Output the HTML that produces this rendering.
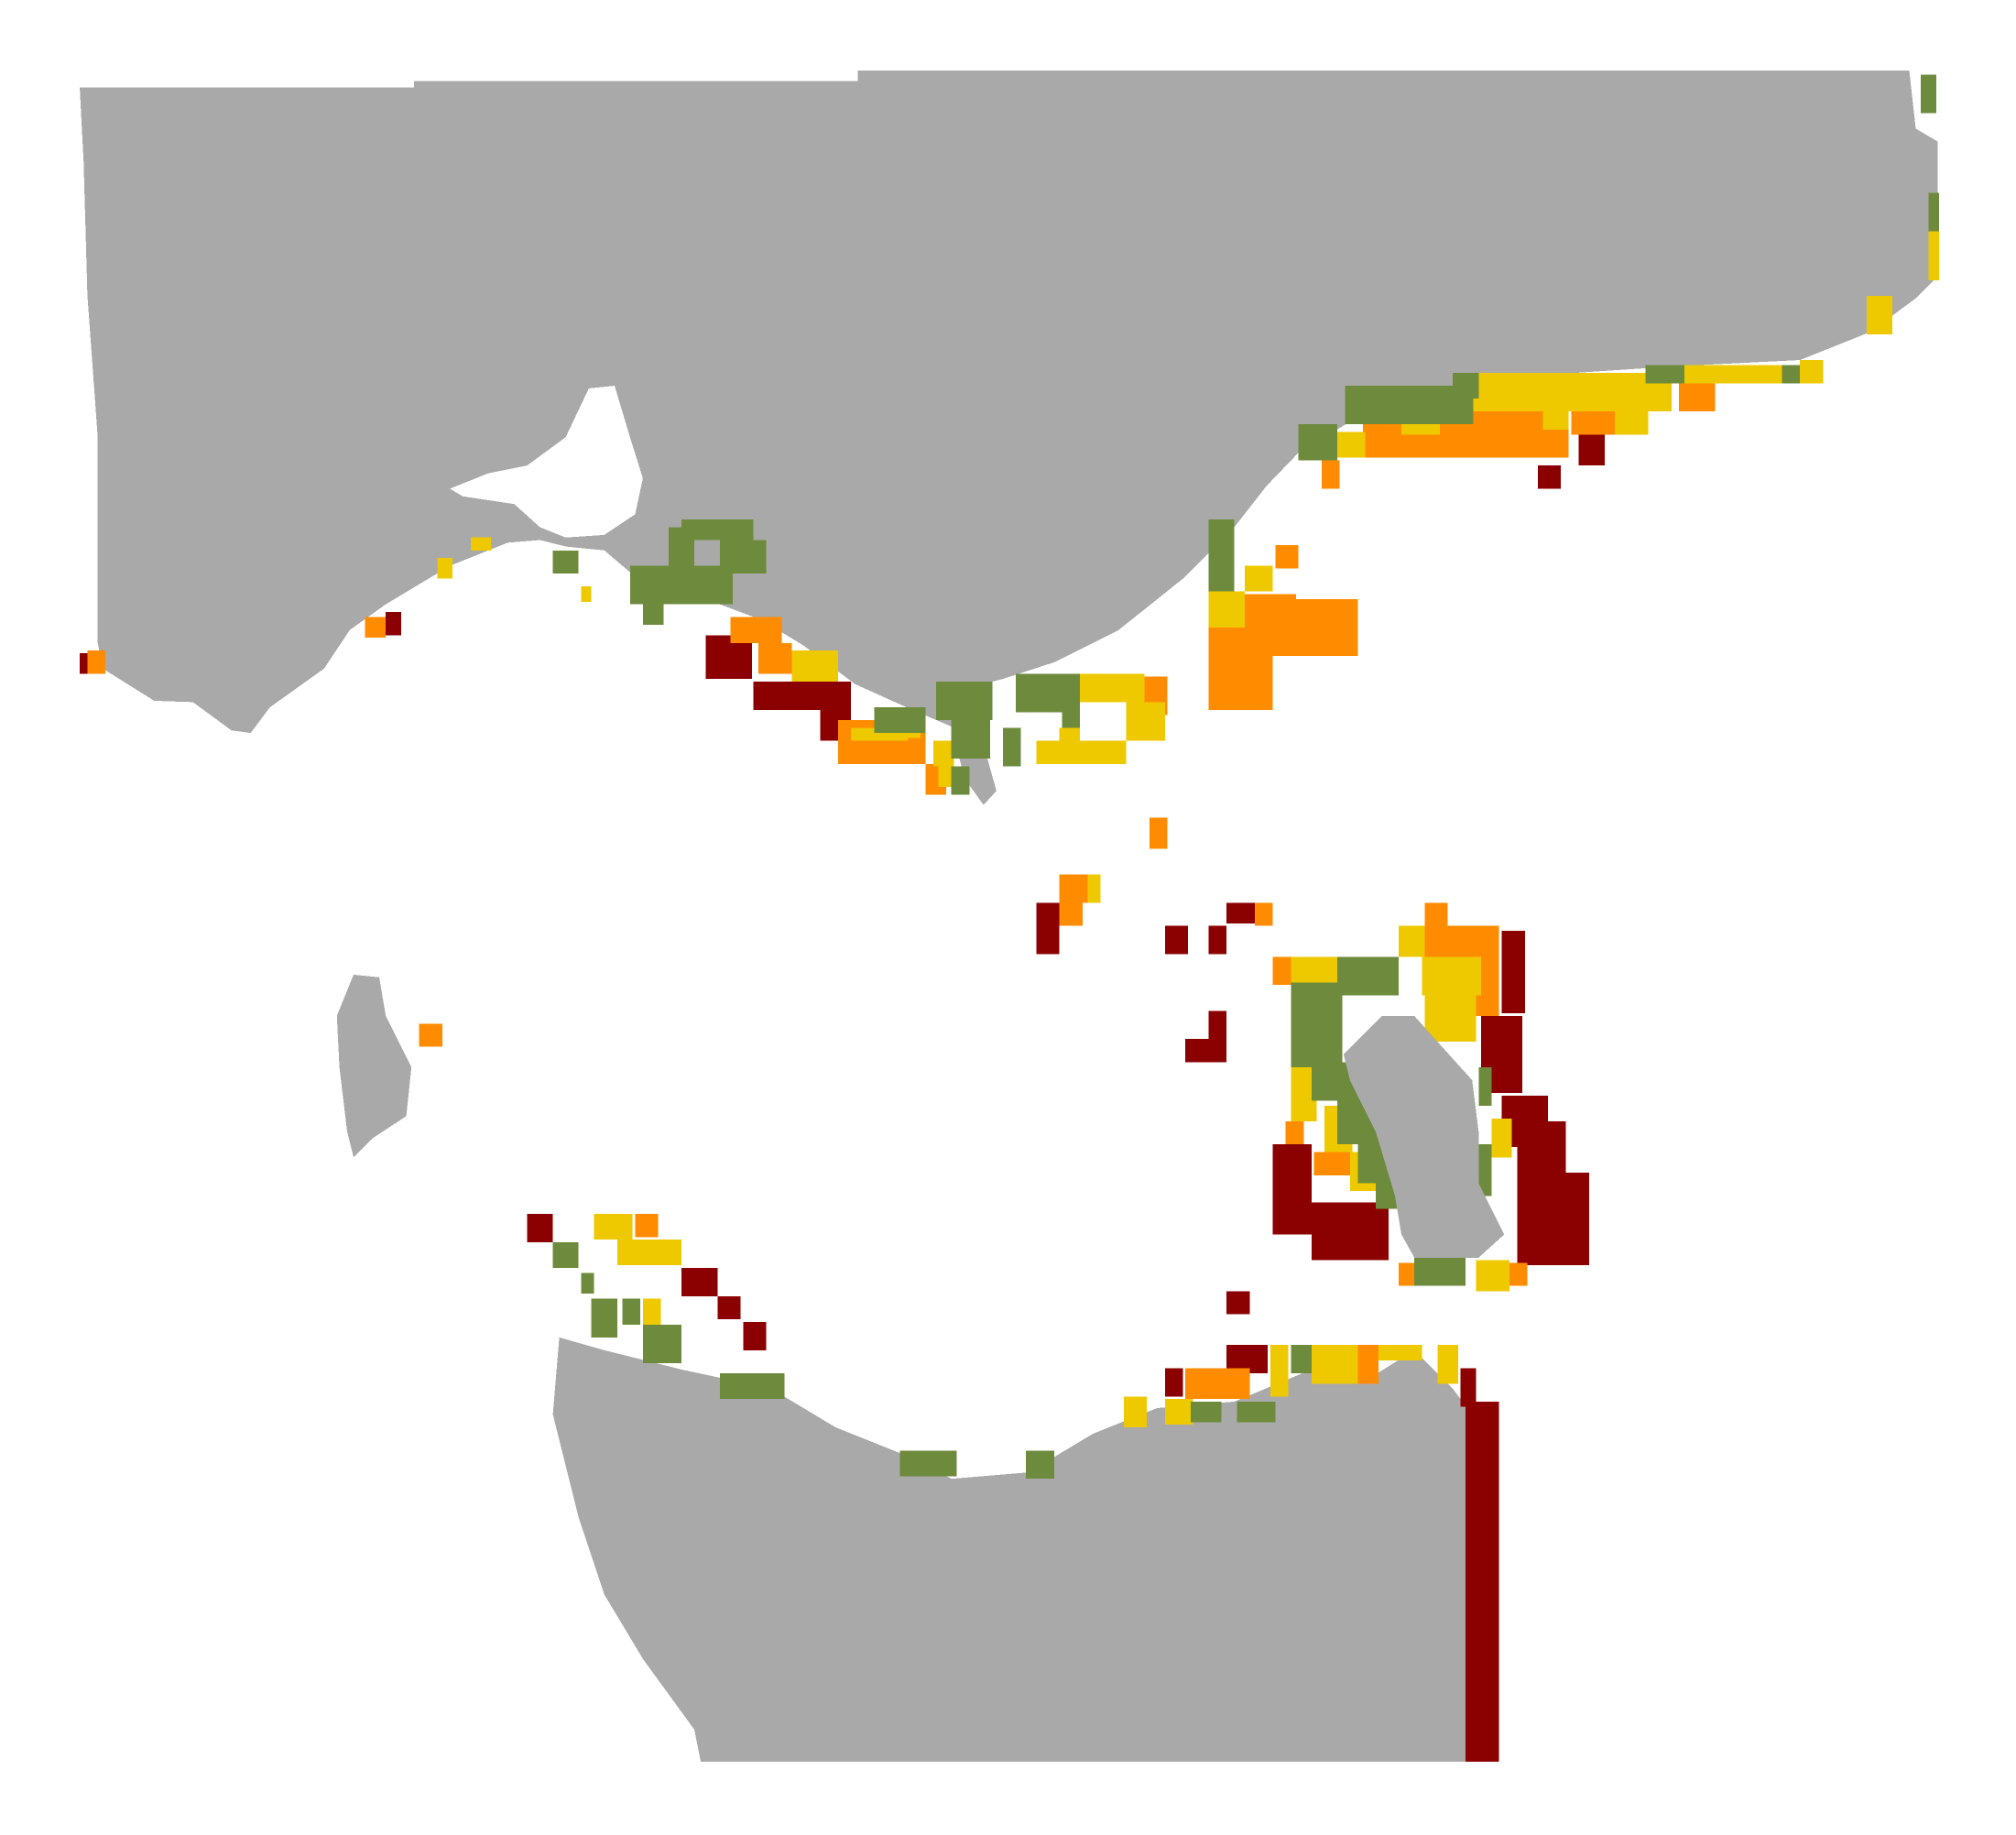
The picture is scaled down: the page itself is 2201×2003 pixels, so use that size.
<!DOCTYPE html>
<html><head><meta charset="utf-8">
<style>html,body{margin:0;padding:0;background:#fff;}svg{display:block;}</style></head>
<body>
<svg id="map" width="2201" height="2003" viewBox="0 0 1568 1427" preserveAspectRatio="none" xmlns="http://www.w3.org/2000/svg" shape-rendering="crispEdges">
<g id="land" fill="#a9a9a9">
<polygon points="62,68 322,68 322,63 667,63 667,55 1485,55 1490,100 1507,110 1507,215 1490,232 1455,258 1420,272 1400,280 1300,285 1150,295 1050,328 1010,352 985,378 960,410 920,450 870,490 820,515 780,528 748,536 760,560 768,590 775,615 765,626 750,605 740,565 705,550 665,532 625,502 592,482 560,470 520,462 490,445 470,428 440,425 420,420 395,422 350,440 330,452 300,470 272,490 252,520 210,550 195,570 180,568 150,546 120,545 80,520 76,500 76,340 68,230 65,125"/>
<polygon fill="#fff" points="350,380 380,368 410,362 440,340 458,302 478,300 490,340 500,372 494,400 470,416 440,418 420,410 400,392 360,386"/>
<polygon points="435,1040 470,1050 530,1065 600,1080 650,1110 700,1130 740,1150 800,1145 850,1115 900,1095 960,1090 1020,1065 1060,1075 1100,1050 1130,1080 1145,1100 1140,1370 545,1370 540,1345 500,1290 470,1240 450,1180 430,1100"/>
<polygon points="275,758 295,760 300,790 320,830 316,868 290,885 275,900 270,880 264,830 262,790"/>
</g>
<g id="cells"></g>
<polygon fill="#a9a9a9" points="1045,820 1075,790 1100,790 1145,840 1150,880 1150,920 1170,960 1150,978 1100,978 1090,960 1085,930 1070,880 1050,840"/>
</svg>
<script>
const categories = ["very-high","high","moderate","low"];
const colors = ["#8b0000","#ff8c00","#eec900","#6e8b3d"];
const cellsVeryHigh = [[549,494,36,34],[586,530,76,22],[638,540,24,36],[300,476,12,18],[62,508,6,16],[1196,362,18,18],[1228,338,20,24],[806,702,18,40],[906,720,18,22],[940,720,14,22],[954,702,22,16],[940,786,14,22],[922,808,32,18],[1168,724,18,64],[1152,790,32,60],[1168,852,36,40],[1180,872,38,40],[1180,912,56,72],[990,890,30,70],[1020,935,60,45],[954,1004,18,18],[954,1046,32,22],[906,1064,14,22],[410,944,20,22],[530,986,28,22],[558,1008,18,18],[578,1028,18,22],[1136,1064,12,30],[1140,1090,26,280]];
const cellsHigh = [[1060,314,160,42],[1120,314,80,20],[1222,318,34,20],[1306,296,28,24],[1028,358,14,22],[992,424,18,18],[940,466,116,44],[940,510,50,42],[968,462,40,20],[890,526,18,30],[652,560,68,34],[720,594,16,24],[568,480,40,20],[590,500,26,24],[284,480,16,16],[68,506,14,18],[894,636,14,24],[824,680,24,22],[824,702,18,18],[976,702,14,18],[990,744,14,22],[1108,702,18,18],[1108,720,58,70],[1000,872,14,18],[1022,896,34,18],[1088,982,20,18],[1174,982,14,18],[326,796,18,18],[494,944,18,18],[922,1064,50,24],[1056,1046,16,30]];
const cellsModerate = [[1140,290,100,30],[1240,290,60,30],[1300,284,100,14],[1400,280,18,18],[1452,230,20,30],[1500,176,8,42],[1038,336,24,20],[1090,318,30,20],[1200,318,20,16],[1256,318,26,20],[940,460,28,28],[968,440,22,20],[840,524,50,22],[876,546,30,30],[806,576,70,18],[824,566,16,12],[726,576,16,20],[700,556,16,18],[616,506,36,24],[662,566,44,10],[846,680,10,22],[1004,744,36,24],[1088,720,20,24],[1106,744,46,30],[1108,774,40,36],[1004,826,20,46],[1030,860,22,36],[1050,896,20,30],[1160,870,16,30],[1148,980,26,24],[462,944,30,20],[480,964,50,20],[500,1010,14,20],[874,1086,18,24],[906,1088,22,20],[988,1046,14,40],[1020,1046,36,30],[1072,1046,34,12],[1118,1046,16,30],[340,434,12,16],[366,418,16,10],[452,456,8,12],[730,592,10,20]];
const cellsLow = [[1046,300,100,30],[1130,290,20,20],[1280,284,30,14],[1386,284,14,14],[1010,330,30,28],[940,404,20,56],[530,404,56,16],[560,420,36,26],[490,440,80,30],[520,410,20,40],[728,530,44,30],[790,524,50,30],[826,540,14,26],[740,560,30,30],[780,566,14,30],[740,596,14,22],[680,550,40,20],[500,470,16,16],[430,428,20,18],[1494,58,12,30],[1500,150,8,30],[1040,744,48,30],[1004,764,40,66],[1020,826,46,30],[1040,850,40,40],[1056,880,34,40],[1070,920,80,20],[1120,890,40,40],[1150,830,10,30],[1100,970,40,30],[430,966,20,20],[460,1010,20,30],[484,1010,14,20],[500,1030,30,30],[560,1068,50,20],[700,1128,44,20],[798,1128,22,22],[926,1090,24,16],[962,1090,30,16],[1004,1046,16,22],[452,990,10,16]];
const series = [cellsVeryHigh, cellsHigh, cellsModerate, cellsLow];
const g = document.getElementById('cells');
const NS = 'http://www.w3.org/2000/svg';
series.forEach(function(arr, i){
  arr.forEach(function(c){
    const r = document.createElementNS(NS,'rect');
    r.setAttribute('x', c[0]); r.setAttribute('y', c[1]);
    r.setAttribute('width', c[2]); r.setAttribute('height', c[3]);
    r.setAttribute('fill', colors[i]);
    
    
    g.appendChild(r);
  });
});
</script>
</body></html>
